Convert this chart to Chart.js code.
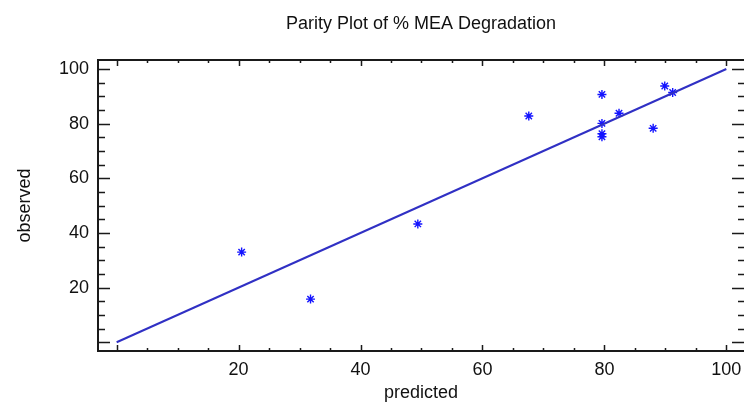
<!DOCTYPE html>
<html>
<head>
<meta charset="utf-8">
<script src="https://cdn.jsdelivr.net/npm/chart.js@4/dist/chart.umd.min.js"></script>
<style>
  html, body { margin: 0; padding: 0; background: #fff; overflow: hidden; }
  canvas { display: block; }
</style>
</head>
<body>
<canvas id="parityChart" width="744" height="405"></canvas>
<script>
// values
const predicted = [20.5, 31.8, 49.4, 67.6, 79.6, 79.6, 79.6, 79.6, 82.4, 88.0, 89.9, 91.2];
const observed  = [33.0, 15.8, 43.3, 82.8, 90.7, 80.1, 76.3, 75.2, 83.8, 78.3, 93.8, 91.4];

// y = x reference line
const refX = [0, 100];
const refY = [0, 100];

const labelTicks = [20, 40, 60, 80, 100];

const FONT = "'Liberation Sans', Arial, sans-serif";

// frame (right edge falls off the canvas) + inward tick marks on all four sides
const frameTicks = {
    id: 'frameTicks',
    afterDraw(chart) {
        const ctx = chart.ctx;
        const a = chart.chartArea;
        const xs = chart.scales.x;
        const ys = chart.scales.y;
        ctx.save();
        ctx.strokeStyle = '#1a1a1a';
        ctx.lineWidth = 2;
        ctx.beginPath();
        ctx.moveTo(a.right, a.top);
        ctx.lineTo(a.left, a.top);
        ctx.lineTo(a.left, a.bottom);
        ctx.lineTo(a.right, a.bottom);
        ctx.stroke();
        ctx.lineWidth = 1.5;
        ctx.beginPath();
        xs.ticks.forEach(t => {
            const px = Math.round(xs.getPixelForValue(t.value)) + 0.5;
            const len = t.value % 20 === 0 ? 6 : 3;
            ctx.moveTo(px, a.bottom);
            ctx.lineTo(px, a.bottom - len);
            ctx.moveTo(px, a.top);
            ctx.lineTo(px, a.top + len);
        });
        ys.ticks.forEach(t => {
            const py = Math.round(ys.getPixelForValue(t.value)) + 0.5;
            const major = t.value % 20 === 0;
            ctx.moveTo(a.left, py);
            ctx.lineTo(a.left + (major ? 12 : 7), py);
            ctx.moveTo(a.right, py);
            ctx.lineTo(a.right - (major ? 12 : 6), py);
        });
        ctx.stroke();
        ctx.restore();
    }
};

const ctx = document.getElementById('parityChart').getContext('2d');
new Chart(ctx, {
    type: 'scatter',
    data: {
        datasets: [
            {
                type: 'line',
                label: 'parity',
                data: refX.map((x, i) => ({ x: x, y: refY[i] })),
                borderColor: '#3030c4',
                borderWidth: 2,
                pointRadius: 0,
                fill: false
            },
            {
                label: '% MEA Degradation',
                data: predicted.map((x, i) => ({ x: x, y: observed[i] })),
                pointStyle: 'star',
                pointRadius: 4.5,
                borderColor: '#1414ff',
                backgroundColor: '#1414ff',
                borderWidth: 1.4
            }
        ]
    },
    options: {
        responsive: false,
        animation: false,
        layout: { padding: 0, autoPadding: false },
        plugins: {
            legend: { display: false },
            tooltip: { enabled: false },
            title: {
                display: true,
                text: 'Parity Plot of % MEA Degradation',
                fullSize: false,
                color: '#111',
                font: { family: FONT, size: 18, weight: 'normal' },
                padding: { top: 13, bottom: 25.4 }
            }
        },
        scales: {
            x: {
                type: 'linear',
                min: -3.06,
                max: 102.9,
                grid: { display: false, drawTicks: true, tickLength: 8 },
                border: { display: false },
                ticks: {
                    stepSize: 5,
                    includeBounds: false,
                    autoSkip: false,
                    maxRotation: 0,
                    padding: 0,
                    color: '#111',
                    font: { family: FONT, size: 18 },
                    callback: v => labelTicks.includes(v) ? String(v) : ''
                },
                title: {
                    display: true,
                    text: 'predicted',
                    color: '#111',
                    font: { family: FONT, size: 18 },
                    padding: { top: 0, bottom: 1 }
                },
                afterFit: s => { s.height = 54; }
            },
            y: {
                type: 'linear',
                min: -3.2,
                max: 103.3,
                grid: { display: false, drawTicks: false },
                border: { display: false },
                ticks: {
                    stepSize: 5,
                    includeBounds: false,
                    autoSkip: false,
                    padding: 9,
                    color: '#111',
                    font: { family: FONT, size: 18 },
                    callback: v => labelTicks.includes(v) ? String(v) : ''
                },
                title: {
                    display: true,
                    text: 'observed',
                    color: '#111',
                    font: { family: FONT, size: 18 },
                    padding: { top: 14, bottom: 0 }
                },
                afterFit: s => { s.width = 98; }
            }
        }
    },
    plugins: [frameTicks]
});
</script>
</body>
</html>
